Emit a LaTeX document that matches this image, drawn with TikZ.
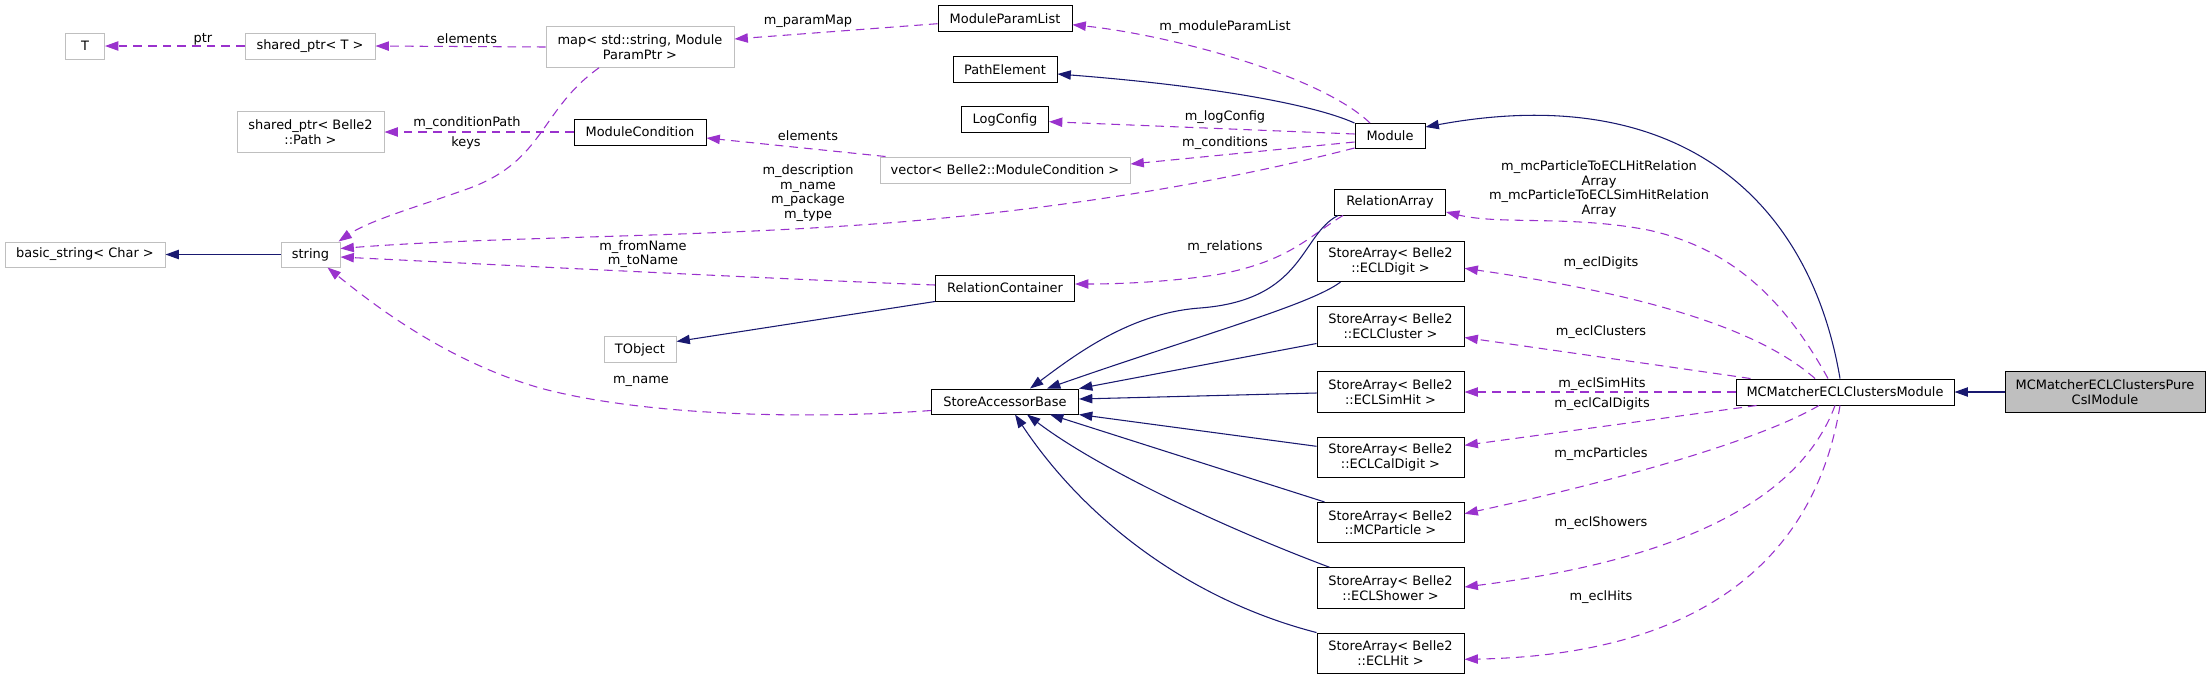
\documentclass[tikz,border=0pt]{standalone}
\usepackage{fontspec}
\setmainfont{DejaVu Sans}
\usetikzlibrary{arrows.meta,calc}
\definecolor{depc}{HTML}{9A32CD}
\definecolor{inhc}{HTML}{191970}
\definecolor{gbd}{HTML}{BFBFBF}
\definecolor{pfill}{HTML}{BFBFBF}
\newcommand\dfont{\fontsize{9.7pt}{11pt}\selectfont}
\begin{document}
\begin{tikzpicture}[x=0.75pt,y=-0.75pt,
  box/.style={draw=black, line width=0.75pt, inner sep=0pt, align=center, font=\dfont, minimum height=19.5pt},
  gbox/.style={box, draw=gbd},
  tall/.style={minimum height=30.4pt},
  dep/.style={draw=depc, dash pattern=on 6.5pt off 4.5pt, line width=0.8pt, -{Triangle[length=10pt,width=7pt]}},
  inh/.style={draw=inhc, line width=0.8pt, -{Triangle[length=10pt,width=7pt]}},
  lbl/.style={font=\dfont, align=center, inner sep=0pt}]
\path[use as bounding box, fill=white] (0,0) rectangle (2211,679);

% nodes
\node[gbox, minimum width=29.25pt] (T) at (85,46) {T};
\node[gbox, minimum width=97.5pt] (sptrT) at (310,46) {shared\_ptr< T >};
\node[gbox, tall, minimum width=141pt] (map) at (640,47) {map< std::string, Module\\ParamPtr >};
\node[gbox, tall, minimum width=110.25pt] (sptrPath) at (310.5,132) {shared\_ptr< Belle2\\::Path >};
\node[box, minimum width=99pt] (modcond) at (640,132) {ModuleCondition};
\node[gbox, minimum width=120pt, minimum height=18.75pt] (basic) at (85,254.5) {basic\_string< Char >};
\node[gbox, minimum width=44.25pt, minimum height=18.75pt] (string) at (310.5,254.5) {string};
\node[box, minimum width=100.5pt] (mpl) at (1005,18.7) {ModuleParamList};
\node[box, minimum width=78pt] (pathel) at (1005,69.5) {PathElement};
\node[box, minimum width=65.25pt] (logcfg) at (1005,119.7) {LogConfig};
\node[gbox, minimum width=187.5pt] (vec) at (1005,170) {vector< Belle2::ModuleCondition >};
\node[box, minimum width=104.25pt] (relcont) at (1005,288) {RelationContainer};
\node[gbox, minimum width=54pt] (tobj) at (640,349.5) {TObject};
\node[box, minimum width=110.25pt, minimum height=18.75pt] (sab) at (1005,401.5) {StoreAccessorBase};
\node[box, minimum width=52.5pt, minimum height=18.75pt] (module) at (1390,136) {Module};
\node[box, minimum width=83.25pt] (relarr) at (1390,202) {RelationArray};
\node[box, tall, minimum width=110.25pt] (sa1) at (1390.5,261.3) {StoreArray< Belle2\\::ECLDigit >};
\node[box, tall, minimum width=110.25pt] (sa2) at (1390.5,326.5) {StoreArray< Belle2\\::ECLCluster >};
\node[box, tall, minimum width=110.25pt] (sa3) at (1390.5,392) {StoreArray< Belle2\\::ECLSimHit >};
\node[box, tall, minimum width=110.25pt] (sa4) at (1390.5,457.3) {StoreArray< Belle2\\::ECLCalDigit >};
\node[box, tall, minimum width=110.25pt] (sa5) at (1390.5,522.7) {StoreArray< Belle2\\::MCParticle >};
\node[box, tall, minimum width=110.25pt] (sa6) at (1390.5,588) {StoreArray< Belle2\\::ECLShower >};
\node[box, tall, minimum width=110.25pt] (sa7) at (1390.5,653.3) {StoreArray< Belle2\\::ECLHit >};
\node[box, minimum width=163.5pt] (mcm) at (1845,392) {MCMatcherECLClustersModule};
\node[box, tall, minimum width=150pt, fill=pfill] (pure) at (2105,392) {MCMatcherECLClustersPure\\CsIModule};

% edges
\draw[dep] (sptrT.west) -- (T.east);
\draw[dep] (map.west) -- (sptrT.east);
\draw[dep] ($(mpl.west)+(0,5)$) -- ($(map.east)+(0,-8)$);
\draw[dep] ($(module.north)+(-20,0)$) .. controls (1320,75) and (1170,35) .. ($(mpl.east)+(0,6)$);
\draw[inh] (module.north west) .. controls (1310,103) and (1200,85) .. ($(pathel.east)+(0,4.5)$);
\draw[dep] ($(module.west)+(0,-2)$) -- ($(logcfg.east)+(0,2)$);
\draw[dep] ($(module.west)+(0,6)$) -- ($(vec.east)+(0,-6)$);
\draw[dep] ($(vec.north west)+(6,0)$) -- ($(modcond.east)+(0,6)$);
\draw[dep] (modcond.west) -- (sptrPath.east);
\draw[inh] (string.west) -- (basic.east);
\draw[dep] ($(map.south)+(-41,0)$) .. controls (540,110) and (545,160) .. (470,188) .. controls (420,206) and (370,220) .. ($(string.north east)+(-2,0)$);
\draw[dep] ($(module.south west)+(0,-1)$) .. controls (1250,175) and (1100,205) .. (900,222) .. controls (700,238) and (500,236) .. ($(string.east)+(0,-6)$);
\draw[dep] ($(relcont.west)+(0,-3)$) .. controls (800,280) and (500,265) .. ($(string.east)+(0,2.5)$);
\draw[inh] (relcont.south west) -- ($(tobj.east)+(0,-8)$);
\draw[dep] ($(sab.west)+(0,9)$) .. controls (800,420) and (640,415) .. (540,388) .. controls (450,362) and (380,310) .. ($(string.south)+(17,0)$);
\draw[dep] ($(relarr.south west)+(9,0)$) .. controls (1310,235) and (1290,262) .. (1215,275) .. controls (1160,283) and (1110,284) .. ($(relcont.east)+(0,-4)$);
\draw[inh] ($(relarr.south west)+(4,0)$) .. controls (1300,235) and (1305,300) .. (1200,308) .. controls (1130,313) and (1075,355) .. ($(sab.north)+(25,0)$);
\draw[inh] ($(sa1.south)+(-50,0)$) .. controls (1310,305) and (1200,335) .. ($(sab.north)+(42,0)$);
\draw[inh] ($(sa2.west)+(0,17)$) -- (sab.north east);
\draw[inh] ($(sa3.west)+(0,1)$) -- ($(sab.east)+(0,-2.5)$);
\draw[inh] ($(sa4.west)+(0,-11)$) -- (sab.south east);
\draw[inh] ($(sa5.north west)+(8,0)$) -- ($(sab.south)+(45,0)$);
\draw[inh] ($(sa6.north west)+(13,0)$) .. controls (1230,530) and (1100,470) .. ($(sab.south)+(22,0)$);
\draw[inh] (sa7.north west) .. controls (1190,600) and (1085,520) .. ($(sab.south)+(10,0)$);
\draw[inh] ($(mcm.north)+(-5,0)$) .. controls (1810,200) and (1680,80) .. ($(module.east)+(0,-9)$);
\draw[dep] ($(mcm.north)+(-17,0)$) .. controls (1790,310) and (1740,250) .. (1648,230) .. controls (1570,215) and (1500,225) .. ($(relarr.east)+(0,10)$);
\draw[dep] ($(mcm.north)+(-30,0)$) .. controls (1760,330) and (1650,295) .. ($(sa1.east)+(0,7)$);
\draw[dep] ($(mcm.north west)+(15,0)$) -- ($(sa2.east)+(0,11)$);
\draw[dep] (mcm.west) -- (sa3.east);
\draw[dep] ($(mcm.south west)+(21,0)$) -- ($(sa4.east)+(0,-12)$);
\draw[dep] ($(mcm.south)+(-26,0)$) .. controls (1760,440) and (1620,480) .. ($(sa5.east)+(0,-9)$);
\draw[dep] ($(mcm.south)+(-10,0)$) .. controls (1800,500) and (1680,560) .. ($(sa6.east)+(0,-1)$);
\draw[dep] ($(mcm.south)+(-5,0)$) .. controls (1815,560) and (1700,655) .. ($(sa7.east)+(0,6)$);
\draw[inh] (pure.west) -- (mcm.east);

% labels
\node[lbl] (l1) at (203,39) {ptr};
\node[lbl] (l2) at (467,39) {elements};
\node[lbl] (l3) at (467,123) {m\_conditionPath};
\node[lbl] (l4) at (466,143) {keys};
\node[lbl] (l5) at (808,21) {m\_paramMap};
\node[lbl] (l6) at (1225,27) {m\_moduleParamList};
\node[lbl] (l7) at (808,136) {elements};
\node[lbl] (l8) at (808,193) {m\_description\\m\_name\\m\_package\\m\_type};
\node[lbl] (l9) at (1225,117) {m\_logConfig};
\node[lbl] (l10) at (1225,143) {m\_conditions};
\node[lbl] (l11) at (1225,247) {m\_relations};
\node[lbl] (l12) at (643,254) {m\_fromName\\m\_toName};
\node[lbl] (l13) at (641,381) {m\_name};
\node[lbl] (l14) at (1599,189) {m\_mcParticleToECLHitRelation\\Array\\m\_mcParticleToECLSimHitRelation\\Array};
\node[lbl] (l15) at (1601,263) {m\_eclDigits};
\node[lbl] (l16) at (1601,332) {m\_eclClusters};
\node[lbl] (l17) at (1602,384) {m\_eclSimHits};
\node[lbl] (l18) at (1602,404) {m\_eclCalDigits};
\node[lbl] (l19) at (1601,454) {m\_mcParticles};
\node[lbl] (l20) at (1601,523) {m\_eclShowers};
\node[lbl] (l21) at (1601,597) {m\_eclHits};
\end{tikzpicture}
\end{document}
